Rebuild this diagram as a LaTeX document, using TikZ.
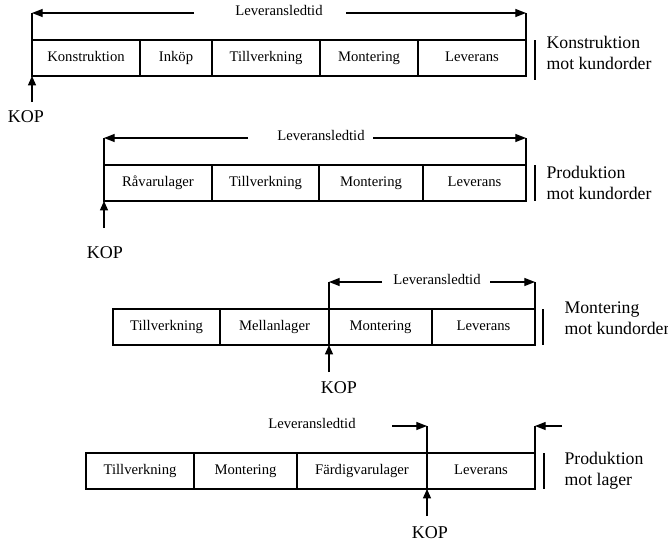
\documentclass[tikz,border=0pt]{standalone}
\usepackage{fontspec}
\setmainfont{Liberation Serif}
\usetikzlibrary{arrows.meta,positioning}
\tikzset{
 cell/.style={draw,line width=0.8pt,inner sep=0pt,outer sep=0pt,
             minimum height=27pt,minimum width=#1*0.75pt,
             text height=8pt,text depth=2.5pt,
             font=\fontsize{11}{13}\selectfont},
 ledtext/.style={font=\fontsize{11}{13}\selectfont,inner sep=1pt},
 ledarrow/.style={-{Triangle[length=8pt,width=6pt]}},
 koparrow/.style={-{Triangle[length=7pt,width=6pt]}},
 kop/.style={font=\fontsize{13.5}{16}\selectfont,inner sep=1pt},
 strat/.style={font=\fontsize{13.3}{16}\selectfont,align=left,
             anchor=west,inner sep=0pt}
}

\begin{document}
\begin{tikzpicture}[x=0.75pt,y=-0.75pt,line width=0.9pt]
\useasboundingbox (0,0) rectangle (668,546);

% Konstruktion mot kundorder
\node[cell=108,anchor=north west] (konstrA) at (32,40) {Konstruktion};
\node[cell=72,right=0pt of konstrA] (inkopA) {Inköp};
\node[cell=108,right=0pt of inkopA] (tillvA) {Tillverkning};
\node[cell=98,right=0pt of tillvA] (montA) {Montering};
\node[cell=108,right=0pt of montA] (levA) {Leverans};
\node[ledtext] (ledA) at (279,10) {Leveransledtid};
\coordinate (ltA) at (194,13);
\coordinate (rtA) at (346,13);
\draw[ledarrow] (ltA) -- (konstrA.north west |- ltA);
\draw[ledarrow] (rtA) -- (levA.north east |- rtA);
\draw (konstrA.north west) -- (konstrA.north west |- ltA);
\draw (levA.north east) -- (levA.north east |- rtA);
\coordinate (kopAs) at (32,102);
\draw[koparrow] (kopAs) -- (konstrA.south west);
\node[kop] (kopA) at (26,117) {KOP};
\draw (535,40) -- (535,80);
\node[strat] (stratA) at (546,53) {Konstruktion\\mot kundorder};

% Produktion mot kundorder
\node[cell=108,anchor=north west] (ravarB) at (104,165) {Råvarulager};
\node[cell=107,right=0pt of ravarB] (tillvB) {Tillverkning};
\node[cell=104,right=0pt of tillvB] (montB) {Montering};
\node[cell=103,right=0pt of montB] (levB) {Leverans};
\node[ledtext] (ledB) at (321,135) {Leveransledtid};
\coordinate (ltB) at (248,138);
\coordinate (rtB) at (373,138);
\draw[ledarrow] (ltB) -- (ravarB.north west |- ltB);
\draw[ledarrow] (rtB) -- (levB.north east |- rtB);
\draw (ravarB.north west) -- (ravarB.north west |- ltB);
\draw (levB.north east) -- (levB.north east |- rtB);
\coordinate (kopBs) at (104,228);
\draw[koparrow] (kopBs) -- (ravarB.south west);
\node[kop] (kopB) at (105,253) {KOP};
\draw (535,165) -- (535,201);
\node[strat] (stratB) at (546,183) {Produktion\\mot kundorder};

% Montering mot kundorder
\node[cell=107,anchor=north west] (tillvC) at (113,309) {Tillverkning};
\node[cell=109,right=0pt of tillvC] (mellC) {Mellanlager};
\node[cell=103,right=0pt of mellC] (montC) {Montering};
\node[cell=103,right=0pt of montC] (levC) {Leverans};
\node[ledtext] (ledC) at (437,279) {Leveransledtid};
\coordinate (ltC) at (382,282);
\coordinate (rtC) at (490,282);
\draw[ledarrow] (ltC) -- (montC.north west |- ltC);
\draw[ledarrow] (rtC) -- (levC.north east |- rtC);
\draw (montC.south west) -- (montC.north west |- ltC);
\draw (levC.north east) -- (levC.north east |- rtC);
\coordinate (kopCs) at (329,372);
\draw[koparrow] (kopCs) -- (montC.south west);
\node[kop] (kopC) at (339,388) {KOP};
\draw (543,309) -- (543,345);
\node[strat] (stratC) at (564,318) {Montering\\mot kundorder};

% Produktion mot lager
\node[cell=108,anchor=north west] (tillvD) at (86,453) {Tillverkning};
\node[cell=103,right=0pt of tillvD] (montD) {Montering};
\node[cell=130,right=0pt of montD] (fardD) {Färdigvarulager};
\node[cell=108,right=0pt of fardD] (levD) {Leverans};
\node[ledtext] (ledD) at (312,423) {Leveransledtid};
\coordinate (ltD) at (392,426);
\coordinate (rtD) at (562,426);
\draw[ledarrow] (ltD) -- (levD.north west |- ltD);
\draw[ledarrow] (rtD) -- (levD.north east |- rtD);
\draw (levD.south west) -- (levD.north west |- ltD);
\draw (levD.north east) -- (levD.north east |- rtD);
\coordinate (kopDs) at (427,516);
\draw[koparrow] (kopDs) -- (levD.south west);
\node[kop] (kopD) at (430,533) {KOP};
\draw (544,453) -- (544,489);
\node[strat] (stratD) at (564,471) {Produktion\\mot lager};
\end{tikzpicture}
\end{document}
